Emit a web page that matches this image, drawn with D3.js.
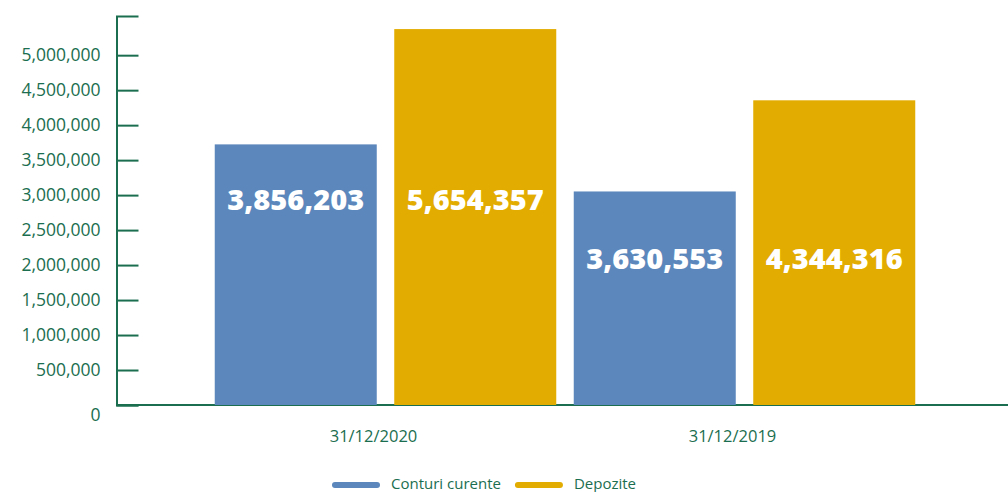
<!DOCTYPE html>
<html>
<head>
<meta charset="utf-8">
<script src="https://cdn.jsdelivr.net/npm/d3@7"></script>
<style>
  html, body { margin: 0; padding: 0; background: #fff; overflow: hidden; }
  svg { display: block; font-family: "Open Sans", sans-serif; }
</style>
</head>
<body>
<svg width="1008" height="492"></svg>
<script>
const width = 1008;
const height = 492;

// data
const groups = ["31/12/2020", "31/12/2019"];
const series = ["Conturi curente", "Depozite"];
// bar heights as drawn
const conturiCurente = [3725000, 3052000];
const depozite = [5373000, 4355000];
// printed labels inside the bars
const conturiLabels = ["3,856,203", "3,630,553"];
const depoziteLabels = ["5,654,357", "4,344,316"];
const yTicks = [0, 500000, 1000000, 1500000, 2000000, 2500000, 3000000, 3500000, 4000000, 4500000, 5000000];

const green = "#1b6e4f";
const color = d3.scaleOrdinal().domain(series).range(["#5b87bc", "#e3ac00"]);

const rows = groups.map((g, i) => ({
  group: g,
  bars: [
    { key: series[0], value: conturiCurente[i], label: conturiLabels[i] },
    { key: series[1], value: depozite[i], label: depoziteLabels[i] }
  ]
}));

const svg = d3.select("svg");

const y = d3.scaleLinear().domain([0, 5560000]).range([405, 16]);
const x0 = d3.scaleBand().domain(groups).range([206, 924]).padding(0);
const x1 = d3.scaleBand().domain(series).range([0, x0.bandwidth()])
  .paddingInner(0.0975).paddingOuter(0.04875);

// x axis line
svg.append("line")
  .attr("x1", 116).attr("x2", width)
  .attr("y1", y(0)).attr("y2", y(0))
  .attr("stroke", green).attr("stroke-width", 2);

// y axis
const yAxis = svg.append("g")
  .attr("transform", "translate(116.5,0)")
  .call(d3.axisLeft(y)
    .tickValues(yTicks)
    .tickFormat(d3.format(","))
    .tickSize(-22)
    .tickSizeOuter(-22)
    .tickPadding(16));

yAxis.selectAll("path, line").attr("stroke", green).attr("stroke-width", 2);
yAxis.selectAll("text")
  .attr("fill", green)
  .style("font-size", "17.5px")
  .style("font-family", "'Open Sans', sans-serif")
  .filter(d => d === 0)
  .attr("dy", "0.9em");

// bars
const grp = svg.append("g")
  .selectAll("g")
  .data(rows)
  .join("g")
  .attr("transform", d => `translate(${x0(d.group)},0)`);

grp.selectAll("rect")
  .data(d => d.bars)
  .join("rect")
  .attr("x", d => x1(d.key))
  .attr("width", x1.bandwidth())
  .attr("y", d => y(d.value))
  .attr("height", d => y(0) - y(d.value))
  .attr("fill", d => color(d.key));

// value labels, same height within a group
grp.each(function (r) {
  const ly = y(d3.mean(r.bars, b => b.value)) + 123;
  d3.select(this).selectAll("text.val")
    .data(r.bars)
    .join("text")
    .attr("class", "val")
    .attr("x", d => x1(d.key) + x1.bandwidth() / 2)
    .attr("y", ly)
    .attr("text-anchor", "middle")
    .attr("fill", "#fff")
    .style("font-size", "29px")
    .style("font-weight", 800)
    .text(d => d.label);
});

// category labels
svg.append("g")
  .selectAll("text")
  .data(groups)
  .join("text")
  .attr("x", d => x0(d) + x0.bandwidth() / 2 - 12)
  .attr("y", 442)
  .attr("text-anchor", "middle")
  .attr("fill", green)
  .style("font-size", "16.5px")
  .text(d => d);

// legend
const legend = svg.append("g").attr("transform", "translate(332,0)");
let lx = 0;
series.forEach(s => {
  const item = legend.append("g").attr("transform", `translate(${lx},0)`);
  item.append("line")
    .attr("x1", 3).attr("x2", 45)
    .attr("y1", 485).attr("y2", 485)
    .attr("stroke", color(s))
    .attr("stroke-width", 6)
    .attr("stroke-linecap", "round");
  const t = item.append("text")
    .attr("x", 59)
    .attr("y", 489)
    .attr("fill", green)
    .style("font-size", "15px")
    .text(s);
  lx += 59 + t.node().getComputedTextLength() + 14;
});
</script>
</body>
</html>
